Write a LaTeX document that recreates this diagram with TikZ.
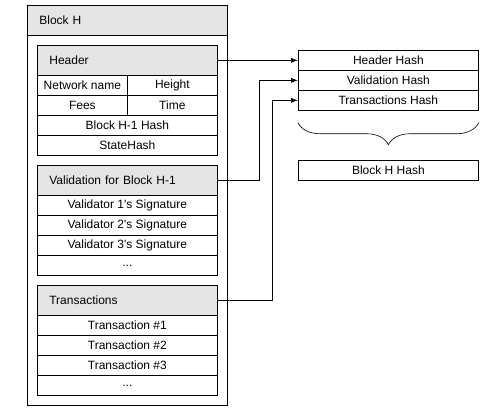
\documentclass[tikz,border=0pt]{standalone}
\usepackage{fontspec}
\setmainfont{Liberation Sans}
\usetikzlibrary{arrows.meta,decorations.pathreplacing}

\begin{document}
\begin{tikzpicture}[x=1pt, y=-1pt, line width=0.7pt,
    font=\fontsize{12}{14}\selectfont,
    box/.style={draw, anchor=north west, inner sep=0pt, minimum height=20pt},
    cell/.style={box, minimum width=180pt},
    half/.style={box, minimum width=90pt},
    title/.style={box, fill=black!10, minimum height=30pt, align=left, inner xsep=12pt},
    link/.style={-{Latex[length=7pt,width=5pt]}}]
  \useasboundingbox (0,0) rectangle (497,416);

  % block frame
  \node[box, minimum width=200pt, minimum height=400pt] (blk) at (27,5) {};
  \node[title, text width=176pt] (blkt) at (27,5) {Block H};

  % header part
  \node[title, text width=156pt] (hdr) at (37,45) {Header};
  \node[half] (net) at (37,75) {Network name};
  \node[half] (hgt) at (127,75) {Height};
  \node[half] (fee) at (37,95) {Fees};
  \node[half] (tim) at (127,95) {Time};
  \node[cell] (prev) at (37,115) {Block H-1 Hash};
  \node[cell] (st) at (37,135) {StateHash};

  % validation part
  \node[title, text width=156pt] (val) at (37,165) {Validation for Block H-1};
  \foreach \i in {1,2,3}
    \node[cell] (sig\i) at (37,175+20*\i) {Validator \i\textquotesingle s Signature};
  \node[cell] (sigx) at (37,255) {...};

  % transactions part
  \node[title, text width=156pt] (tx) at (37,285) {Transactions};
  \foreach \i in {1,2,3}
    \node[cell] (tx\i) at (37,295+20*\i) {Transaction \#\i};
  \node[cell] (txx) at (37,375) {...};

  % hashes
  \node[cell] (hh) at (298,50) {Header Hash};
  \node[cell] (vh) at (298,70) {Validation Hash};
  \node[cell] (th) at (298,90) {Transactions Hash};
  \node[cell] (bh) at (298,160) {Block H Hash};

  \draw[link] (hdr.east) -- (hh.west);
  \draw[link] (val.east) -- ++(42,0) |- (vh.west);
  \draw[link] (tx.east) -- ++(55,0) |- (th.west);

  % brace over the three hashes
  \draw[line width=0.6pt, decorate, decoration={brace, mirror, amplitude=22pt}]
    ([yshift=-12pt]th.south west) -- ([yshift=-12pt]th.south east);
\end{tikzpicture}
\end{document}
